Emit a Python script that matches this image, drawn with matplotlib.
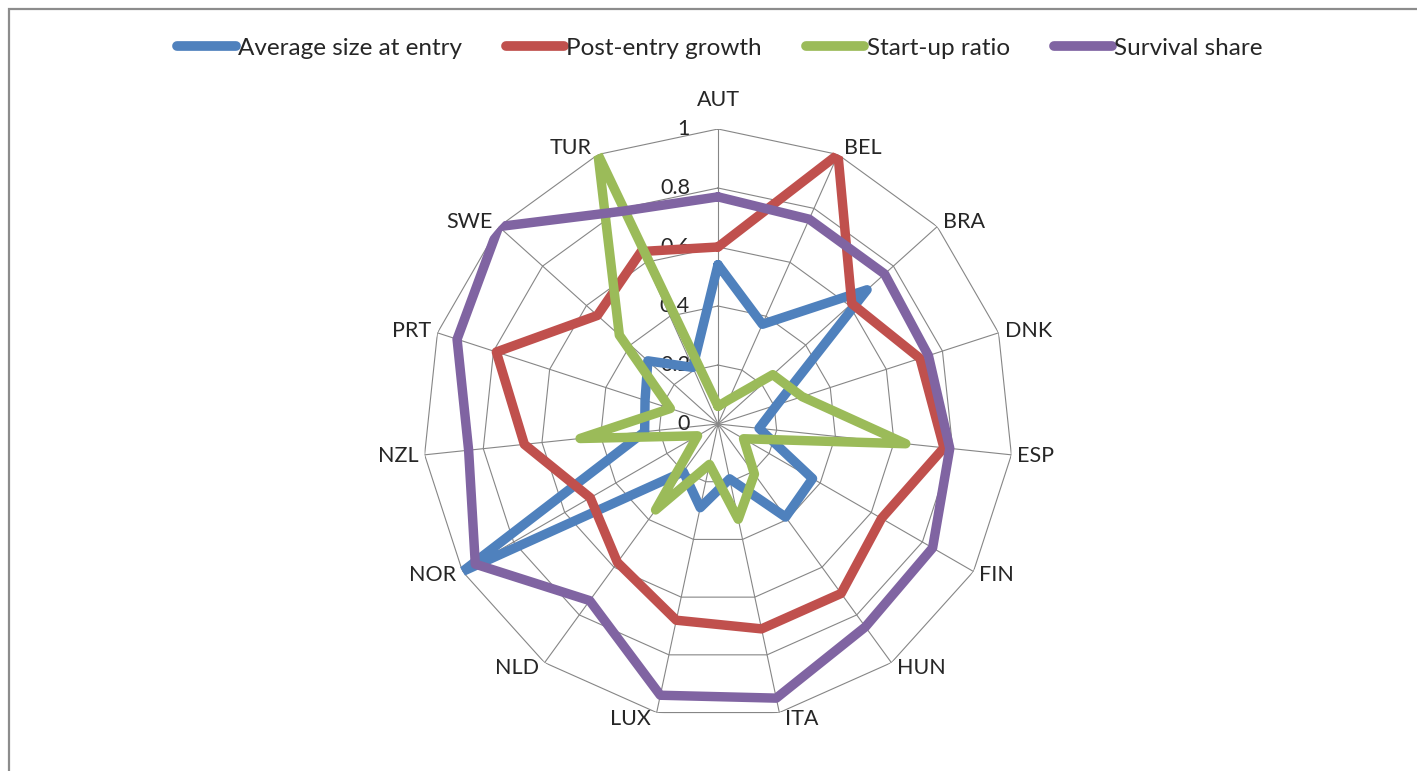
import numpy as np
import matplotlib
matplotlib.use('Agg')
import matplotlib.pyplot as plt
from matplotlib.patches import Rectangle

# Radar chart: entry and post-entry dynamics by country
categories = ['AUT', 'BEL', 'BRA', 'DNK', 'ESP', 'FIN', 'HUN', 'ITA',
              'LUX', 'NLD', 'NOR', 'NZL', 'PRT', 'SWE', 'TUR']
avg_size_entry = [0.54, 0.37, 0.68, 0.21, 0.14, 0.37, 0.39, 0.19,
                  0.29, 0.20, 1.00, 0.25, 0.26, 0.32, 0.21]
post_entry_growth = [0.60, 1.00, 0.61, 0.72, 0.77, 0.64, 0.71, 0.71,
                     0.68, 0.58, 0.50, 0.66, 0.79, 0.55, 0.64]
startup_ratio = [0.06, 0.09, 0.25, 0.30, 0.64, 0.10, 0.21, 0.33,
                 0.14, 0.36, 0.08, 0.47, 0.17, 0.45, 1.00]
survival_share = [0.77, 0.76, 0.76, 0.75, 0.79, 0.84, 0.85, 0.95,
                  0.94, 0.74, 0.95, 0.85, 0.93, 1.00, 0.79]

series_names = ['Average size at entry', 'Post-entry growth',
                'Start-up ratio', 'Survival share']
series_colors = ['#4F81BD', '#C0504D', '#9BBB59', '#8064A2']
ring_values = [0.2, 0.4, 0.6, 0.8, 1.0]
ring_labels = ['0', '0.2', '0.4', '0.6', '0.8', '1']

plt.rcParams['font.family'] = ['Lato', 'DejaVu Sans']
grid_color = '#868686'
text_color = '#262626'
label_size = 15.5

W, H = 1417, 771
fig = plt.figure(figsize=(W / 100, H / 100), dpi=100)

# outer chart frame (left/top visible, right/bottom run off the image)
fig.patches.append(Rectangle((9 / W, -0.1), 1.2, 1.1 - 9 / H, transform=fig.transFigure,
                             fill=False, edgecolor='#8c8c8c', linewidth=1.6))

cx, cy, R = 718, 424, 295
ax = fig.add_axes([(cx - R) / W, (H - cy - R) / H, 2 * R / W, 2 * R / H],
                  projection='polar')
ax.set_theta_zero_location('N')
ax.set_theta_direction(-1)
ax.set_ylim(0, 1)
ax.grid(False)
ax.set_xticks([])
ax.set_yticks([])
ax.spines['polar'].set_visible(False)
ax.patch.set_visible(False)

n = len(categories)
angles = np.arange(n) * 2 * np.pi / n
closed = np.append(angles, angles[0])

# polygon grid and spokes
for r in ring_values:
    ax.plot(closed, [r] * (n + 1), color=grid_color, lw=0.8, zorder=1)
for a in angles:
    ax.plot([a, a], [0, 1], color=grid_color, lw=0.8, zorder=1)

# series
all_series = [avg_size_entry, post_entry_growth, startup_ratio, survival_share]
for vals, name, col in zip(all_series, series_names, series_colors):
    ax.plot(closed, np.append(vals, vals[0]), color=col, lw=6.8, label=name,
            solid_joinstyle='round', solid_capstyle='round', zorder=3)

# radial value labels along the AUT axis
for r, lab in zip([0] + ring_values, ring_labels):
    ax.annotate(lab, xy=(0, r), xytext=(-28, 0), textcoords='offset pixels',
                ha='right', va='center', fontsize=label_size, color=text_color, zorder=2)

# category labels
for a, lab in zip(angles, categories):
    s, c = np.sin(a), np.cos(a)
    if abs(s) < 0.1:
        ax.annotate(lab, xy=(a, 1), xytext=(0, 29), textcoords='offset pixels',
                    ha='center', va='center', fontsize=label_size, color=text_color,
                    annotation_clip=False)
    else:
        ax.annotate(lab, xy=(a, 1), xytext=(6 * np.sign(s), 7 * c),
                    textcoords='offset pixels', ha='left' if s > 0 else 'right',
                    va='center', fontsize=label_size, color=text_color,
                    annotation_clip=False)

leg = fig.legend(loc='center', bbox_to_anchor=(720 / W, 1 - 48 / H), ncol=4,
                 frameon=False, fontsize=17.5, handlelength=2.4, handletextpad=0.1,
                 columnspacing=1.8, labelcolor=text_color)
for h in leg.legend_handles:
    h.set_linewidth(7)

fig.savefig('out.png', dpi=100)
